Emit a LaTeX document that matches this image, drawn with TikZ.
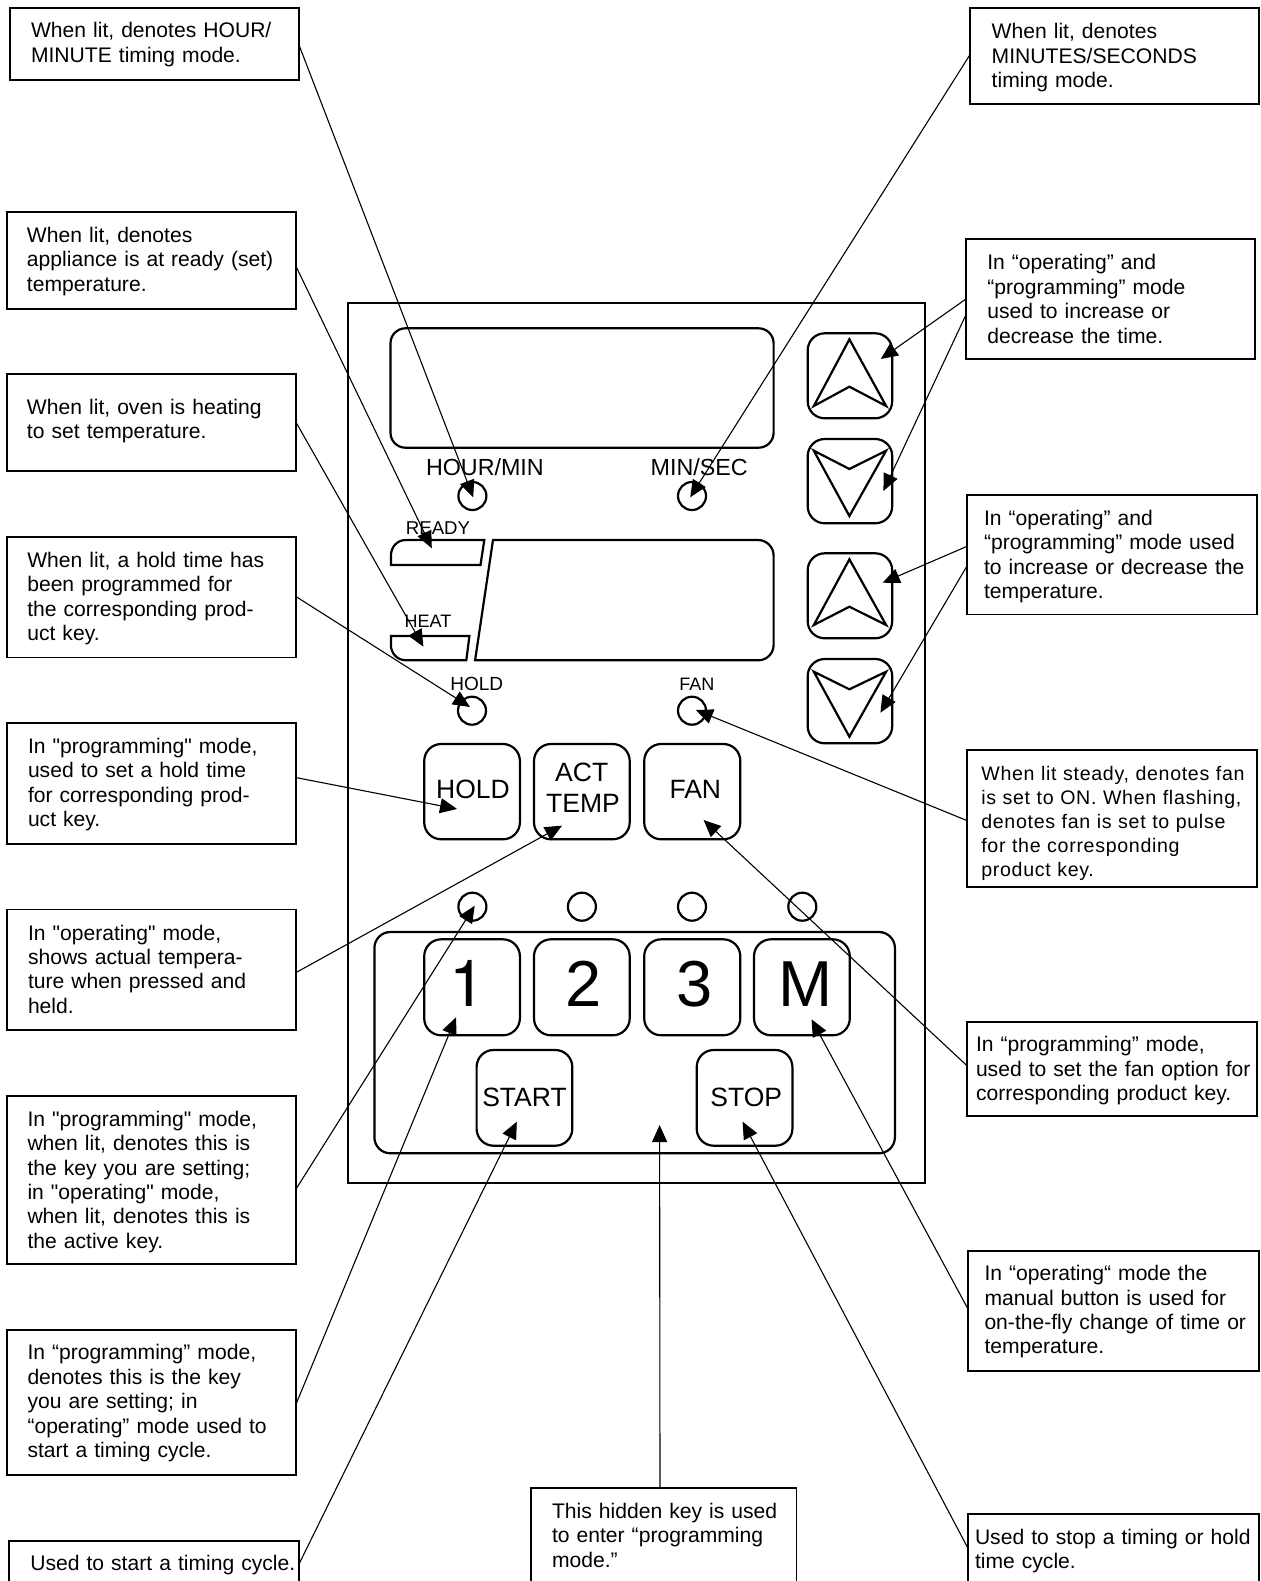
\documentclass[tikz,border=0pt]{standalone}
\usepackage{fontspec}
\setmainfont{Liberation Sans}
\newfontfamily\notefont{Liberation Sans}
\newfontfamily\digitfont{TeX Gyre Heros}
\usetikzlibrary{arrows.meta,fit}
\tikzset{
  notebox/.style={draw,line width=1.9pt,inner sep=0pt,outer sep=0pt},
  openbox/.style={inner sep=0pt,outer sep=0pt},
  panelbox/.style={draw,line width=1.9pt,inner sep=0pt,outer sep=0pt},
  roundbox/.style={draw,line width=2.2pt,inner sep=0pt,outer sep=0pt,rounded corners=#1},
  led/.style={draw,circle,line width=2.2pt,inner sep=0pt,outer sep=0pt,minimum size=28pt},
  shapeline/.style={line width=2.2pt,line join=miter},
  note/.style={anchor=base west,inner sep=0pt,outer sep=0pt,text width=285pt,align=left,font=\notefont\fontsize{21.1}{24.4}\selectfont},
  notewide/.style={note,font=\notefont\fontsize{19.6}{24}\selectfont\addfontfeature{LetterSpace=3.5}},
  caption/.style={anchor=base,inner sep=0pt,outer sep=0pt,font=\fontsize{#1}{#1}\selectfont},
  callout/.style={line width=1.1pt,-{Triangle[length=17pt,width=15pt]}}
}
\newcommand{\notebx}[5]{\node[notebox,fit={(#2,#3) (#4,#5)}] (#1) {};}
\newcommand{\keybx}[5]{\node[roundbox=17pt,fit={(#2,#3) (#4,#5)}] (#1) {};}
\newcommand{\openbx}[5]{\node[openbox,fit={(#2,#3) (#4,#5)}] (#1) {};
  \draw[line width=1.9pt] (#1.south west) -- (#1.north west) -- (#1.north east) -- (#1.south east);}
\begin{document}
\begin{tikzpicture}[x=1pt,y=-1pt]
\fill[white] (0,0) rectangle (1260,1581);
\useasboundingbox (0,0) rectangle (1260,1581);

% --- panel ---
\node[panelbox,fit={(347.7,302.7) (924.8,1183.3)}] (panel) {};
\node[roundbox=15pt,fit={(390.5,328.3) (773.6,447.7)}] (display1) {};
\node[roundbox=16pt,fit={(374.4,932) (894.9,1153.3)}] (keypad) {};

% lower display and indicators
\draw[shapeline] (493,540) -- (758,540)
  arc[start angle=90,end angle=0,radius=15.6pt] -- (773.6,645) arc[start angle=0,end angle=-90,radius=15.3pt] -- (475.1,660.3) -- cycle;
\draw[shapeline] (390.9,565) -- (390.9,556) .. controls (390.9,547) and (397,540) .. (406,540) -- (484.3,540) -- (480.5,565) -- cycle;
\draw[shapeline] (390.9,636) -- (469.4,636) -- (466.3,660.3) -- (406,660.3) .. controls (397,660.3) and (390.9,653) .. (390.9,645) -- cycle;

% arrow keys
\keybx{up1}{807.7}{333.3}{892.2}{418.3}
\keybx{down1}{807.7}{439}{892.2}{523.3}
\keybx{up2}{807.7}{553.3}{892.2}{638.3}
\keybx{down2}{807.7}{659}{892.2}{743.3}
\draw[shapeline] (849.4,339.3) -- (886.1,406) -- (849.4,386.7) -- (813.8,406) -- cycle;
\draw[shapeline] (849.4,516) -- (886.1,450.7) -- (849.4,469) -- (813.8,450.7) -- cycle;
\draw[shapeline] (849.4,559.3) -- (886.1,625) -- (849.4,606.7) -- (813.8,625) -- cycle;
\draw[shapeline] (849.4,736.7) -- (886.1,671.7) -- (849.4,689.3) -- (813.8,671.7) -- cycle;

% LEDs
\node[led] (ledhm) at (472.4,496) {};
\node[led] (ledms) at (692,496) {};
\node[led] (ledhold) at (472,710.7) {};
\node[led] (ledfan) at (692,710.7) {};
\node[led] (leda) at (472.4,906.7) {};
\node[led] (ledb) at (581.9,906.7) {};
\node[led] (ledc) at (692,906.7) {};
\node[led] (ledd) at (802.3,906.7) {};

% keys
\keybx{keyhold}{424.2}{744}{519.9}{839.3}
\keybx{keyact}{534}{744}{629.7}{839.3}
\keybx{keyfan}{644.2}{744}{740.3}{839.3}
\keybx{keyone}{424.2}{939.3}{519.9}{1035.3}
\keybx{keytwo}{534}{939.3}{629.7}{1035.3}
\keybx{keythree}{644.2}{939.3}{740.3}{1035.3}
\keybx{keym}{754}{939.3}{849.8}{1035.3}
\keybx{keystart}{476.6}{1050}{572.3}{1145.7}
\keybx{keystop}{696.7}{1050}{792.4}{1145.7}

% panel captions
\node[caption=23.3] (capa) at (484.9,475) {HOUR/MIN};
\node[caption=23.3] (capb) at (699.2,475) {MIN/SEC};
\node[caption=18.6] (capc) at (438,534.3) {READY};
\node[caption=18] (capd) at (428,627.7) {HEAT};
\node[caption=19] (cape) at (476.8,690.7) {HOLD};
\node[caption=18] (capf) at (696.9,690.7) {FAN};
\node[caption=26.5] (capg) at (473,798.3) {HOLD};
\node[caption=26.5] (caph) at (581.7,781.7) {ACT};
\node[caption=26.5] (capi) at (583,812.3) {TEMP};
\node[caption=26.5] (capj) at (695.3,798.3) {FAN};
\node[caption=65] (capk) at (468,1006.7) {\digitfont 1};
\node[caption=65] (capl) at (583.8,1006.7) {2};
\node[caption=65] (capm) at (695,1006.7) {3};
\node[caption=65] (capn) at (805.8,1006.7) {M};
\node[caption=26.5] (capo) at (524.5,1106.7) {START};
\node[caption=26.5] (capp) at (746.2,1106.7) {STOP};

% --- note boxes ---
\notebx{bhm}{10}{8}{299}{80}
\notebx{bready}{6.7}{212}{295.7}{308.7}
\notebx{bheat}{6.7}{374.3}{295.7}{470.7}
\notebx{bhold}{6.7}{536.7}{295.7}{657.5}
\notebx{bholdkey}{6.7}{723.3}{295.7}{843.6}
\notebx{bact}{6.7}{909.5}{295.7}{1030.2}
\notebx{bled}{6.7}{1095.7}{295.7}{1264.4}
\notebx{bone}{6.7}{1330}{295.7}{1474.7}
\openbx{bstart}{9}{1540.7}{298.7}{1581}
\notebx{rms}{970.3}{8}{1259}{104.4}
\notebx{rtime}{965.7}{239.4}{1255}{359.4}
\notebx{rtemp}{967.3}{494.8}{1256.7}{614.5}
\notebx{rfanled}{967.3}{750}{1256.7}{886.7}
\notebx{rfan}{967.3}{1021.7}{1256.7}{1115.7}
\notebx{rman}{967.6}{1250.7}{1258.9}{1371}
\openbx{rstop}{968}{1514}{1259}{1581}
\openbx{bhidden}{531}{1488}{796.5}{1581}

% --- note texts ---
\node[note] (tbhm) at (31,37.7) {When lit, denotes HOUR/\\MINUTE timing mode.};
\node[note] (tbready) at (27,242.3) {When lit, denotes\\appliance is at ready (set)\\temperature.};
\node[note] (tbheat) at (27,414.3) {When lit, oven is heating\\to set temperature.};
\node[note] (tbhold) at (27.3,567.3) {When lit, a hold time has\\been programmed for\\the corresponding prod-\\uct key.};
\node[note] (tbholdkey) at (28,753.5) {In "programming" mode,\\used to set a hold time\\for corresponding prod-\\uct key.};
\node[note] (tbact) at (28,940) {In "operating" mode,\\shows actual tempera-\\ture when pressed and\\held.};
\node[note] (tbled) at (27.5,1126.2) {In "programming" mode,\\when lit, denotes this is\\the key you are setting;\\in "operating" mode,\\when lit, denotes this is\\the active key.};
\node[note] (tbone) at (27.5,1359.9) {In “programming” mode,\\denotes this is the key\\you are setting; in\\“operating” mode used to\\start a timing cycle.};
\node[note] (tbstart) at (30.3,1570.5) {Used to start a timing cycle.};
\node[note] (trms) at (991.7,39) {When lit, denotes\\MINUTES/SECONDS\\timing mode.};
\node[note] (trtime) at (987.3,269.9) {In “operating” and\\“programming” mode\\used to increase or\\decrease the time.};
\node[note] (trtemp) at (984,525.3) {In “operating” and\\“programming” mode used\\to increase or decrease the\\temperature.};
\node[notewide] (trfanled) at (981.3,780) {When lit steady, denotes fan\\is set to ON. When flashing,\\denotes fan is set to pulse\\for the corresponding\\product key.};
\node[note] (trfan) at (976,1051.7) {In “programming” mode,\\used to set the fan option for\\corresponding product key.};
\node[note] (trman) at (984.5,1280.7) {In “operating“ mode the\\manual button is used for\\on-the-fly change of time or\\temperature.};
\node[note] (trstop) at (975,1544) {Used to stop a timing or hold\\time cycle.};
\node[note] (tbhidden) at (552,1518.3) {This hidden key is used\\to enter “programming\\mode.”};

% --- connector ends with no node of their own ---
\coordinate (readytip) at (431.8,548.3);
\coordinate (heattip) at (423.4,646.7);
\coordinate (hiddentip) at (659.6,1125);

% --- connectors ---
\draw[callout] ([yshift=-1pt]bhm.east) -- ([xshift=.8pt,yshift=-1.3pt]ledhm.center);
\draw[callout] ([yshift=-5.35pt]bready.east) -- (readytip);
\draw[callout] ([yshift=.8pt]bheat.east) -- (heattip);
\draw[callout] ([yshift=.7pt]bhold.east) -- ([xshift=-2pt,yshift=3.7pt]ledhold.center);
\draw[callout] ([yshift=5.95pt]bholdkey.east) -- ([xshift=-15pt,yshift=-17.35pt]keyhold.center);
\draw[callout] ([yshift=-2.85pt]bact.east) -- ([xshift=-19.85pt,yshift=-34pt]keyact.center);
\draw[callout] ([yshift=-9.5pt]bled.east) -- ([xshift=2.3pt,yshift=1pt]leda.center);
\draw[callout] ([yshift=-2.55pt]bone.east) -- ([xshift=-16.05pt,yshift=-30pt]keyone.center);
\draw[callout] ([yshift=-3.85pt]bstart.east) -- ([xshift=-7.65pt,yshift=-23.85pt]keystart.center);
\draw[callout] ([xshift=-3.75pt]bhidden.north) -- (hiddentip);
\draw[callout] ([yshift=-.8pt]rstop.west) -- ([xshift=-1.95pt,yshift=-23.85pt]keystop.center);
\draw[callout] ([yshift=2.55pt]rman.west) -- ([xshift=9.6pt,yshift=-32pt]keym.center);
\draw[callout] ([yshift=2.7pt]rfan.west) -- ([xshift=11.35pt,yshift=-28.35pt]keyfan.center);
\draw[callout] ([yshift=-2.35pt]rfanled.west) -- ([xshift=3.9pt,yshift=.7pt]ledfan.center);
\draw[callout] ([yshift=8.45pt]rtemp.west) -- ([xshift=32.75pt,yshift=13.1pt]up2.center);
\draw[callout] ([yshift=-10.85pt]rtemp.west) -- ([xshift=30.45pt,yshift=-11.55pt]down2.center);
\draw[callout] ([yshift=.2pt]rtime.west) -- ([xshift=30.85pt,yshift=16.8pt]up1.center);
\draw[callout] ([yshift=-15.9pt]rtime.west) -- ([xshift=33.45pt,yshift=-9.85pt]down1.center);
\draw[callout] ([yshift=2pt]rms.west) -- ([xshift=-1.8pt,yshift=-1.3pt]ledms.center);
\end{tikzpicture}
\end{document}
